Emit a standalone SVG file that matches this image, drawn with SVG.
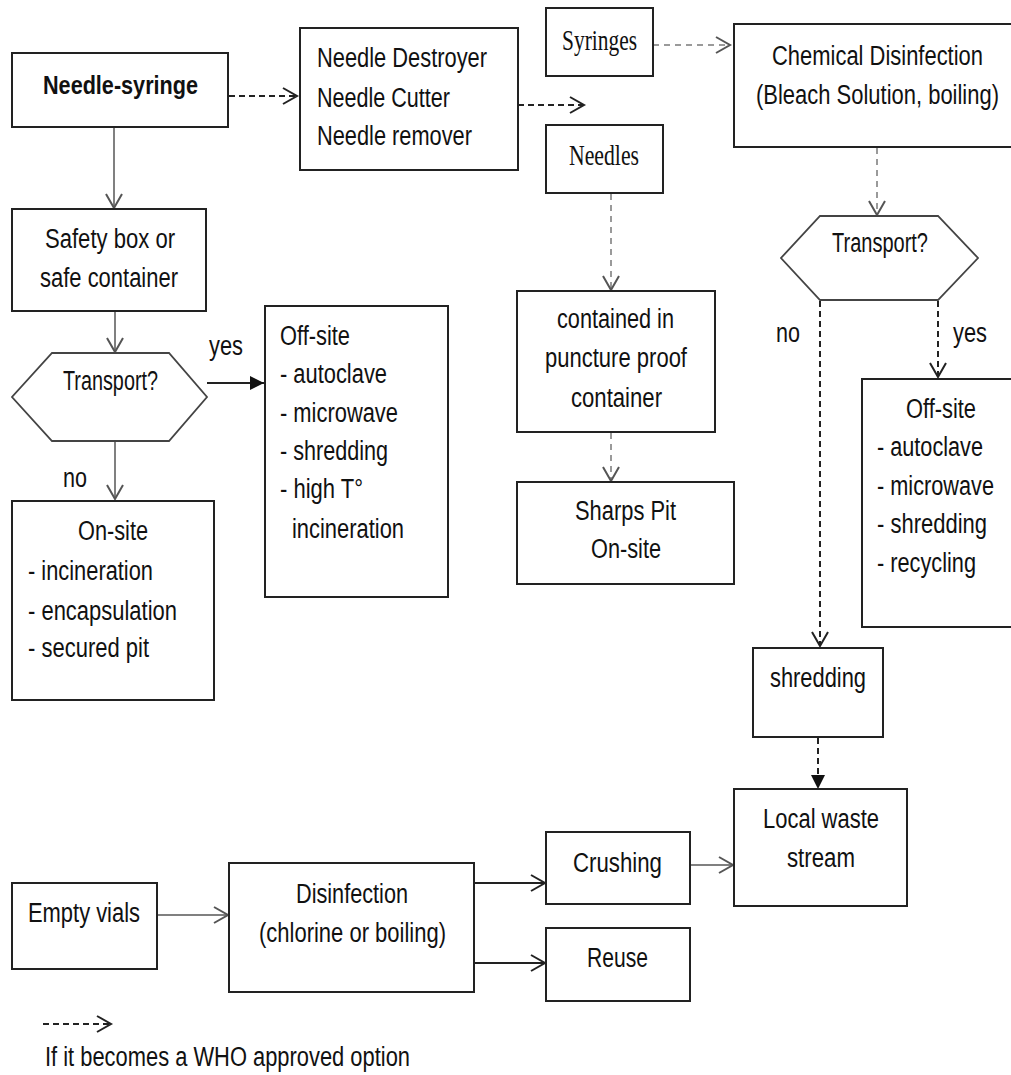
<svg xmlns="http://www.w3.org/2000/svg" width="1011" height="1075" viewBox="0 0 1011 1075">
<style>
  .box{fill:#fff;stroke:#222;stroke-width:2}
  .hex{fill:#fff;stroke:#444;stroke-width:1.8}
  .t{font-family:"Liberation Sans",Arial,sans-serif;font-size:27px;fill:#111}
  .b{font-family:"Liberation Sans",Arial,sans-serif;font-size:26px;font-weight:bold;fill:#111}
  .s{font-family:"Liberation Serif","Times New Roman",serif;font-size:30px;fill:#111}
  .solidg{fill:none;stroke:#808080;stroke-width:2}
  .solidk{fill:none;stroke:#222;stroke-width:2}
  .dashk{fill:none;stroke:#222;stroke-width:2;stroke-dasharray:6 4}
  .dashg{fill:none;stroke:#9a9a9a;stroke-width:2;stroke-dasharray:6 5}
</style>
<defs>
  <marker id="openk" markerUnits="userSpaceOnUse" markerWidth="20" markerHeight="20" refX="15" refY="9" orient="auto">
    <path d="M1,1 L15,9 L1,17" fill="none" stroke="#222" stroke-width="2"/>
  </marker>
  <marker id="openg" markerUnits="userSpaceOnUse" markerWidth="20" markerHeight="20" refX="15" refY="9" orient="auto">
    <path d="M1,1 L15,9 L1,17" fill="none" stroke="#555" stroke-width="2"/>
  </marker>
  <marker id="fillk" markerUnits="userSpaceOnUse" markerWidth="18" markerHeight="16" refX="14" refY="7" orient="auto">
    <path d="M0,0 L14,7 L0,14 z" fill="#111"/>
  </marker>
</defs>
<rect width="1011" height="1075" fill="#fff"/>

<g id="connectors">
  <line class="dashk" x1="229" y1="96" x2="297" y2="96" marker-end="url(#openk)"/>
  <line class="dashk" x1="518" y1="105" x2="584" y2="105" marker-end="url(#openk)"/>
  <line class="dashg" x1="653" y1="45" x2="730" y2="45" marker-end="url(#openg)"/>
  <line class="dashg" x1="877" y1="148" x2="877" y2="215" marker-end="url(#openg)"/>
  <line class="dashk" x1="820" y1="301" x2="820" y2="646" marker-end="url(#openk)"/>
  <line class="dashk" x1="938" y1="301" x2="938" y2="377" marker-end="url(#openk)"/>
  <line class="dashk" x1="818" y1="738" x2="818" y2="789" marker-end="url(#fillk)"/>
  <line class="dashg" x1="611" y1="194" x2="611" y2="290" marker-end="url(#openg)"/>
  <line class="dashg" x1="611" y1="433" x2="611" y2="481" marker-end="url(#openg)"/>
  <line class="solidg" x1="114" y1="128" x2="114" y2="208" marker-end="url(#openg)"/>
  <line class="solidg" x1="115" y1="312" x2="115" y2="352" marker-end="url(#openg)"/>
  <line class="solidg" x1="115" y1="442" x2="115" y2="499" marker-end="url(#openg)"/>
  <line class="solidk" x1="207" y1="383" x2="264" y2="383" marker-end="url(#fillk)"/>
  <line class="solidg" x1="158" y1="915" x2="228" y2="915" marker-end="url(#openg)"/>
  <line class="solidk" x1="475" y1="883" x2="545" y2="883" marker-end="url(#openk)"/>
  <line class="solidk" x1="475" y1="963" x2="545" y2="963" marker-end="url(#openk)"/>
  <line class="solidg" x1="691" y1="865" x2="733" y2="865" marker-end="url(#openg)"/>
  <line class="dashk" x1="43" y1="1024" x2="111" y2="1024" marker-end="url(#openk)"/>
</g>

<g id="needle-syringe">
  <rect class="box" x="12" y="53" width="216" height="74"/>
  <text class="b" x="43" y="94" textLength="155" lengthAdjust="spacingAndGlyphs">Needle-syringe</text>
</g>
<g id="needle-destroyer">
  <rect class="box" x="300" y="28" width="218" height="142"/>
  <text class="t" x="317" y="67" textLength="170" lengthAdjust="spacingAndGlyphs">Needle Destroyer</text>
  <text class="t" x="317" y="107" textLength="133" lengthAdjust="spacingAndGlyphs">Needle Cutter</text>
  <text class="t" x="317" y="145" textLength="155" lengthAdjust="spacingAndGlyphs">Needle remover</text>
</g>
<g id="syringes">
  <rect class="box" x="546" y="8" width="107" height="68"/>
  <text class="s" x="562" y="50" textLength="75" lengthAdjust="spacingAndGlyphs">Syringes</text>
</g>
<g id="needles">
  <rect class="box" x="546" y="125" width="117" height="68"/>
  <text class="s" x="569" y="165" textLength="70" lengthAdjust="spacingAndGlyphs">Needles</text>
</g>
<g id="chemical-disinfection">
  <rect class="box" x="734" y="24" width="290" height="123"/>
  <text class="t" x="772" y="65" textLength="211" lengthAdjust="spacingAndGlyphs">Chemical Disinfection</text>
  <text class="t" x="756" y="104" textLength="243" lengthAdjust="spacingAndGlyphs">(Bleach Solution, boiling)</text>
</g>
<g id="transport-right">
  <polygon class="hex" points="820,216 938,216 978,258 938,300 820,300 781,258"/>
  <text class="t" x="832" y="252" textLength="96" lengthAdjust="spacingAndGlyphs">Transport?</text>
  <text class="t" x="776" y="342" textLength="24" lengthAdjust="spacingAndGlyphs">no</text>
  <text class="t" x="953" y="342" textLength="34" lengthAdjust="spacingAndGlyphs">yes</text>
</g>
<g id="offsite-right">
  <rect class="box" x="862" y="379" width="160" height="248"/>
  <text class="t" x="906" y="418" textLength="70" lengthAdjust="spacingAndGlyphs">Off-site</text>
  <text class="t" x="877" y="456" textLength="106" lengthAdjust="spacingAndGlyphs">- autoclave</text>
  <text class="t" x="877" y="495" textLength="117" lengthAdjust="spacingAndGlyphs">- microwave</text>
  <text class="t" x="877" y="533" textLength="110" lengthAdjust="spacingAndGlyphs">- shredding</text>
  <text class="t" x="877" y="572" textLength="99" lengthAdjust="spacingAndGlyphs">- recycling</text>
</g>
<g id="shredding">
  <rect class="box" x="753" y="648" width="130" height="89"/>
  <text class="t" x="770" y="687" textLength="96" lengthAdjust="spacingAndGlyphs">shredding</text>
</g>
<g id="local-waste">
  <rect class="box" x="734" y="789" width="173" height="117"/>
  <text class="t" x="763" y="828" textLength="116" lengthAdjust="spacingAndGlyphs">Local waste</text>
  <text class="t" x="787" y="867" textLength="68" lengthAdjust="spacingAndGlyphs">stream</text>
</g>
<g id="safety-box">
  <rect class="box" x="12" y="209" width="194" height="102"/>
  <text class="t" x="45" y="248" textLength="130" lengthAdjust="spacingAndGlyphs">Safety box or</text>
  <text class="t" x="40" y="287" textLength="138" lengthAdjust="spacingAndGlyphs">safe container</text>
</g>
<g id="transport-left">
  <polygon class="hex" points="52,353 169,353 207,397 169,441 52,441 12,397"/>
  <text class="t" x="63" y="390" textLength="95" lengthAdjust="spacingAndGlyphs">Transport?</text>
  <text class="t" x="209" y="355" textLength="34" lengthAdjust="spacingAndGlyphs">yes</text>
  <text class="t" x="63" y="487" textLength="24" lengthAdjust="spacingAndGlyphs">no</text>
</g>
<g id="onsite-left">
  <rect class="box" x="12" y="501" width="202" height="199"/>
  <text class="t" x="78" y="540" textLength="70" lengthAdjust="spacingAndGlyphs">On-site</text>
  <text class="t" x="28" y="580" textLength="125" lengthAdjust="spacingAndGlyphs">- incineration</text>
  <text class="t" x="28" y="620" textLength="149" lengthAdjust="spacingAndGlyphs">- encapsulation</text>
  <text class="t" x="28" y="657" textLength="121" lengthAdjust="spacingAndGlyphs">- secured pit</text>
</g>
<g id="offsite-left">
  <rect class="box" x="265" y="306" width="183" height="291"/>
  <text class="t" x="280" y="345" textLength="70" lengthAdjust="spacingAndGlyphs">Off-site</text>
  <text class="t" x="280" y="383" textLength="107" lengthAdjust="spacingAndGlyphs">- autoclave</text>
  <text class="t" x="280" y="422" textLength="118" lengthAdjust="spacingAndGlyphs">- microwave</text>
  <text class="t" x="280" y="460" textLength="108" lengthAdjust="spacingAndGlyphs">- shredding</text>
  <text class="t" x="280" y="498" textLength="83" lengthAdjust="spacingAndGlyphs">- high T°</text>
  <text class="t" x="292" y="538" textLength="112" lengthAdjust="spacingAndGlyphs">incineration</text>
</g>
<g id="puncture-proof">
  <rect class="box" x="517" y="291" width="198" height="141"/>
  <text class="t" x="557" y="328" textLength="117" lengthAdjust="spacingAndGlyphs">contained in</text>
  <text class="t" x="545" y="367" textLength="142" lengthAdjust="spacingAndGlyphs">puncture proof</text>
  <text class="t" x="571" y="407" textLength="91" lengthAdjust="spacingAndGlyphs">container</text>
</g>
<g id="sharps-pit">
  <rect class="box" x="517" y="482" width="217" height="102"/>
  <text class="t" x="575" y="520" textLength="101" lengthAdjust="spacingAndGlyphs">Sharps Pit</text>
  <text class="t" x="591" y="558" textLength="70" lengthAdjust="spacingAndGlyphs">On-site</text>
</g>
<g id="empty-vials">
  <rect class="box" x="12" y="883" width="145" height="86"/>
  <text class="t" x="28" y="922" textLength="112" lengthAdjust="spacingAndGlyphs">Empty vials</text>
</g>
<g id="disinfection">
  <rect class="box" x="229" y="863" width="245" height="129"/>
  <text class="t" x="296" y="903" textLength="112" lengthAdjust="spacingAndGlyphs">Disinfection</text>
  <text class="t" x="259" y="942" textLength="187" lengthAdjust="spacingAndGlyphs">(chlorine or boiling)</text>
</g>
<g id="crushing">
  <rect class="box" x="546" y="832" width="144" height="72"/>
  <text class="t" x="573" y="872" textLength="89" lengthAdjust="spacingAndGlyphs">Crushing</text>
</g>
<g id="reuse">
  <rect class="box" x="546" y="928" width="144" height="73"/>
  <text class="t" x="587" y="967" textLength="61" lengthAdjust="spacingAndGlyphs">Reuse</text>
</g>
<g id="legend">
  <text class="t" x="45" y="1066" textLength="365" lengthAdjust="spacingAndGlyphs">If it becomes a WHO approved option</text>
</g>
</svg>
